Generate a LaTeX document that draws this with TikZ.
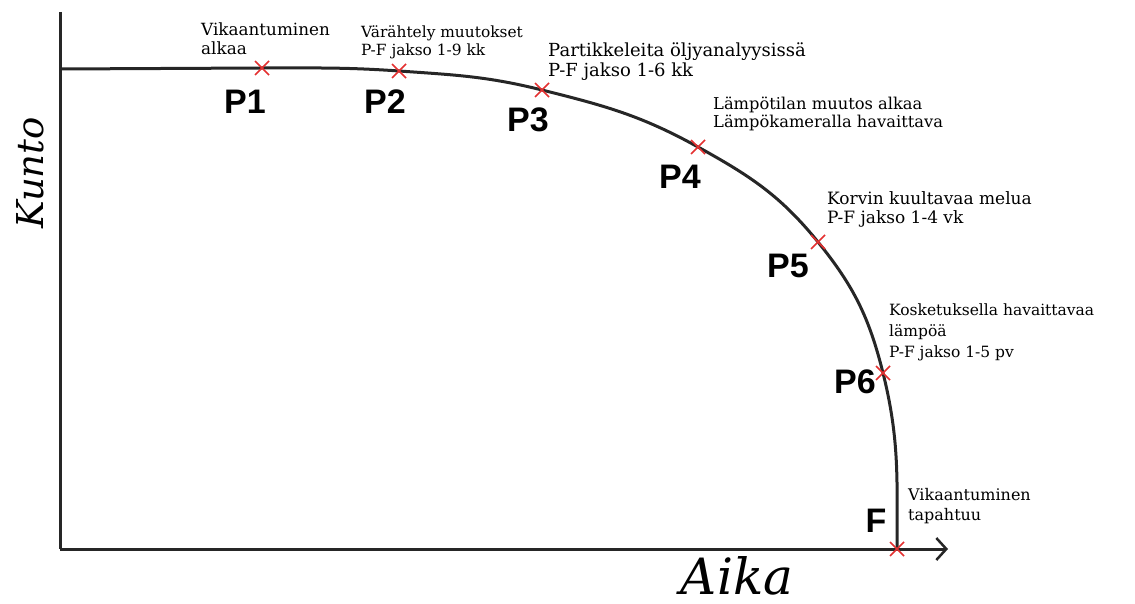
\documentclass[tikz,border=0pt]{standalone}
\usepackage{fontspec}
\setmainfont{DejaVu Serif}
\newfontfamily\lblfont{Liberation Sans}
\usetikzlibrary{arrows.meta,shapes.misc}

\definecolor{markred}{RGB}{228,48,48}

\newcommand\notesize[2]{\fontsize{#1}{#2}\selectfont}

\tikzset{
  axis/.style={line width=3pt, black!85},
  curve/.style={line width=3pt, black!85},
  xmark/.style={cross out, draw=markred, line width=1.5pt, minimum size=12.5pt, inner sep=0pt},
  plabel/.style={font=\lblfont\bfseries\fontsize{34}{34}\selectfont, inner sep=0pt},
  note/.style={align=left, anchor=base west, inner sep=0pt},
  axlabel/.style={font=\itshape, inner sep=0pt, anchor=base, text depth=0pt}
}

\begin{document}
\begin{tikzpicture}[x=1pt,y=1pt]
\useasboundingbox (0,0) rectangle (1135,-604);

% axes
\coordinate (ytop) at (60,-12);
\coordinate (orig) at (60,-549);
\coordinate (xend) at (948,-549);
\draw[axis] (ytop) -- (orig);
\draw[axis, -{Straight Barb[length=10pt,width=22pt,line width=2.5pt]}] (orig) -- (xend);
\node[axlabel, rotate=90, font=\itshape\fontsize{37}{37}\selectfont] (kunto) at (43,-173) {Kunto};
\node[axlabel, font=\itshape\fontsize{50}{50}\selectfont] (aika) at (737,-594) {Aika};

% points on the curve
\coordinate (start) at (60,-69);
\coordinate (c1) at (262,-68);
\coordinate (c2) at (399,-71);
\coordinate (c3) at (542,-90);
\coordinate (c4) at (698,-147);
\coordinate (c5) at (818,-242);
\coordinate (c6) at (883,-373);
\coordinate (cf) at (897,-549);

\draw[curve] (start) -- (c1) to[out=0,in=176] (c2) to[out=-4,in=166] (c3)
  to[out=-14,in=151] (c4) to[out=-29,in=129] (c5) to[out=-51,in=104] (c6)
  to[out=-76,in=90] (cf);

\foreach \p in {c1,c2,c3,c4,c5,c6,cf}
  \node[xmark] (m\p) at (\p) {};

% labels
\node[plabel] (p1) at (245,-102) {P1};
\node[plabel] (p2) at (385,-102) {P2};
\node[plabel] (p3) at (528,-120) {P3};
\node[plabel] (p4) at (680,-177) {P4};
\node[plabel] (p5) at (788,-266) {P5};
\node[plabel] (p6) at (855,-382) {P6};
\node[plabel] (pf) at (876,-521) {F};

% notes (anchored on the last line)
\node[note, font=\notesize{16.8}{19}] (n1) at (201,-55) {Vikaantuminen\\alkaa};
\node[note, font=\notesize{15.4}{18}] (n2) at (361,-56) {Värähtely muutokset\\P-F jakso 1-9 kk};
\node[note, font=\notesize{18}{20}] (n3) at (548,-77) {Partikkeleita öljyanalyysissä\\P-F jakso 1-6 kk};
\node[note, font=\notesize{16.3}{18}] (n4) at (713,-128) {Lämpötilan muutos alkaa\\Lämpökameralla havaittava};
\node[note, font=\notesize{17}{18}] (n5) at (827,-223) {Korvin kuultavaa melua\\P-F jakso 1-4 vk};
\node[note, font=\notesize{15.5}{21}] (n6) at (889,-357) {Kosketuksella havaittavaa\\lämpöä\\P-F jakso 1-5 pv};
\node[note, font=\notesize{16}{20}] (n7) at (908,-520) {Vikaantuminen\\tapahtuu};
\end{tikzpicture}
\end{document}
